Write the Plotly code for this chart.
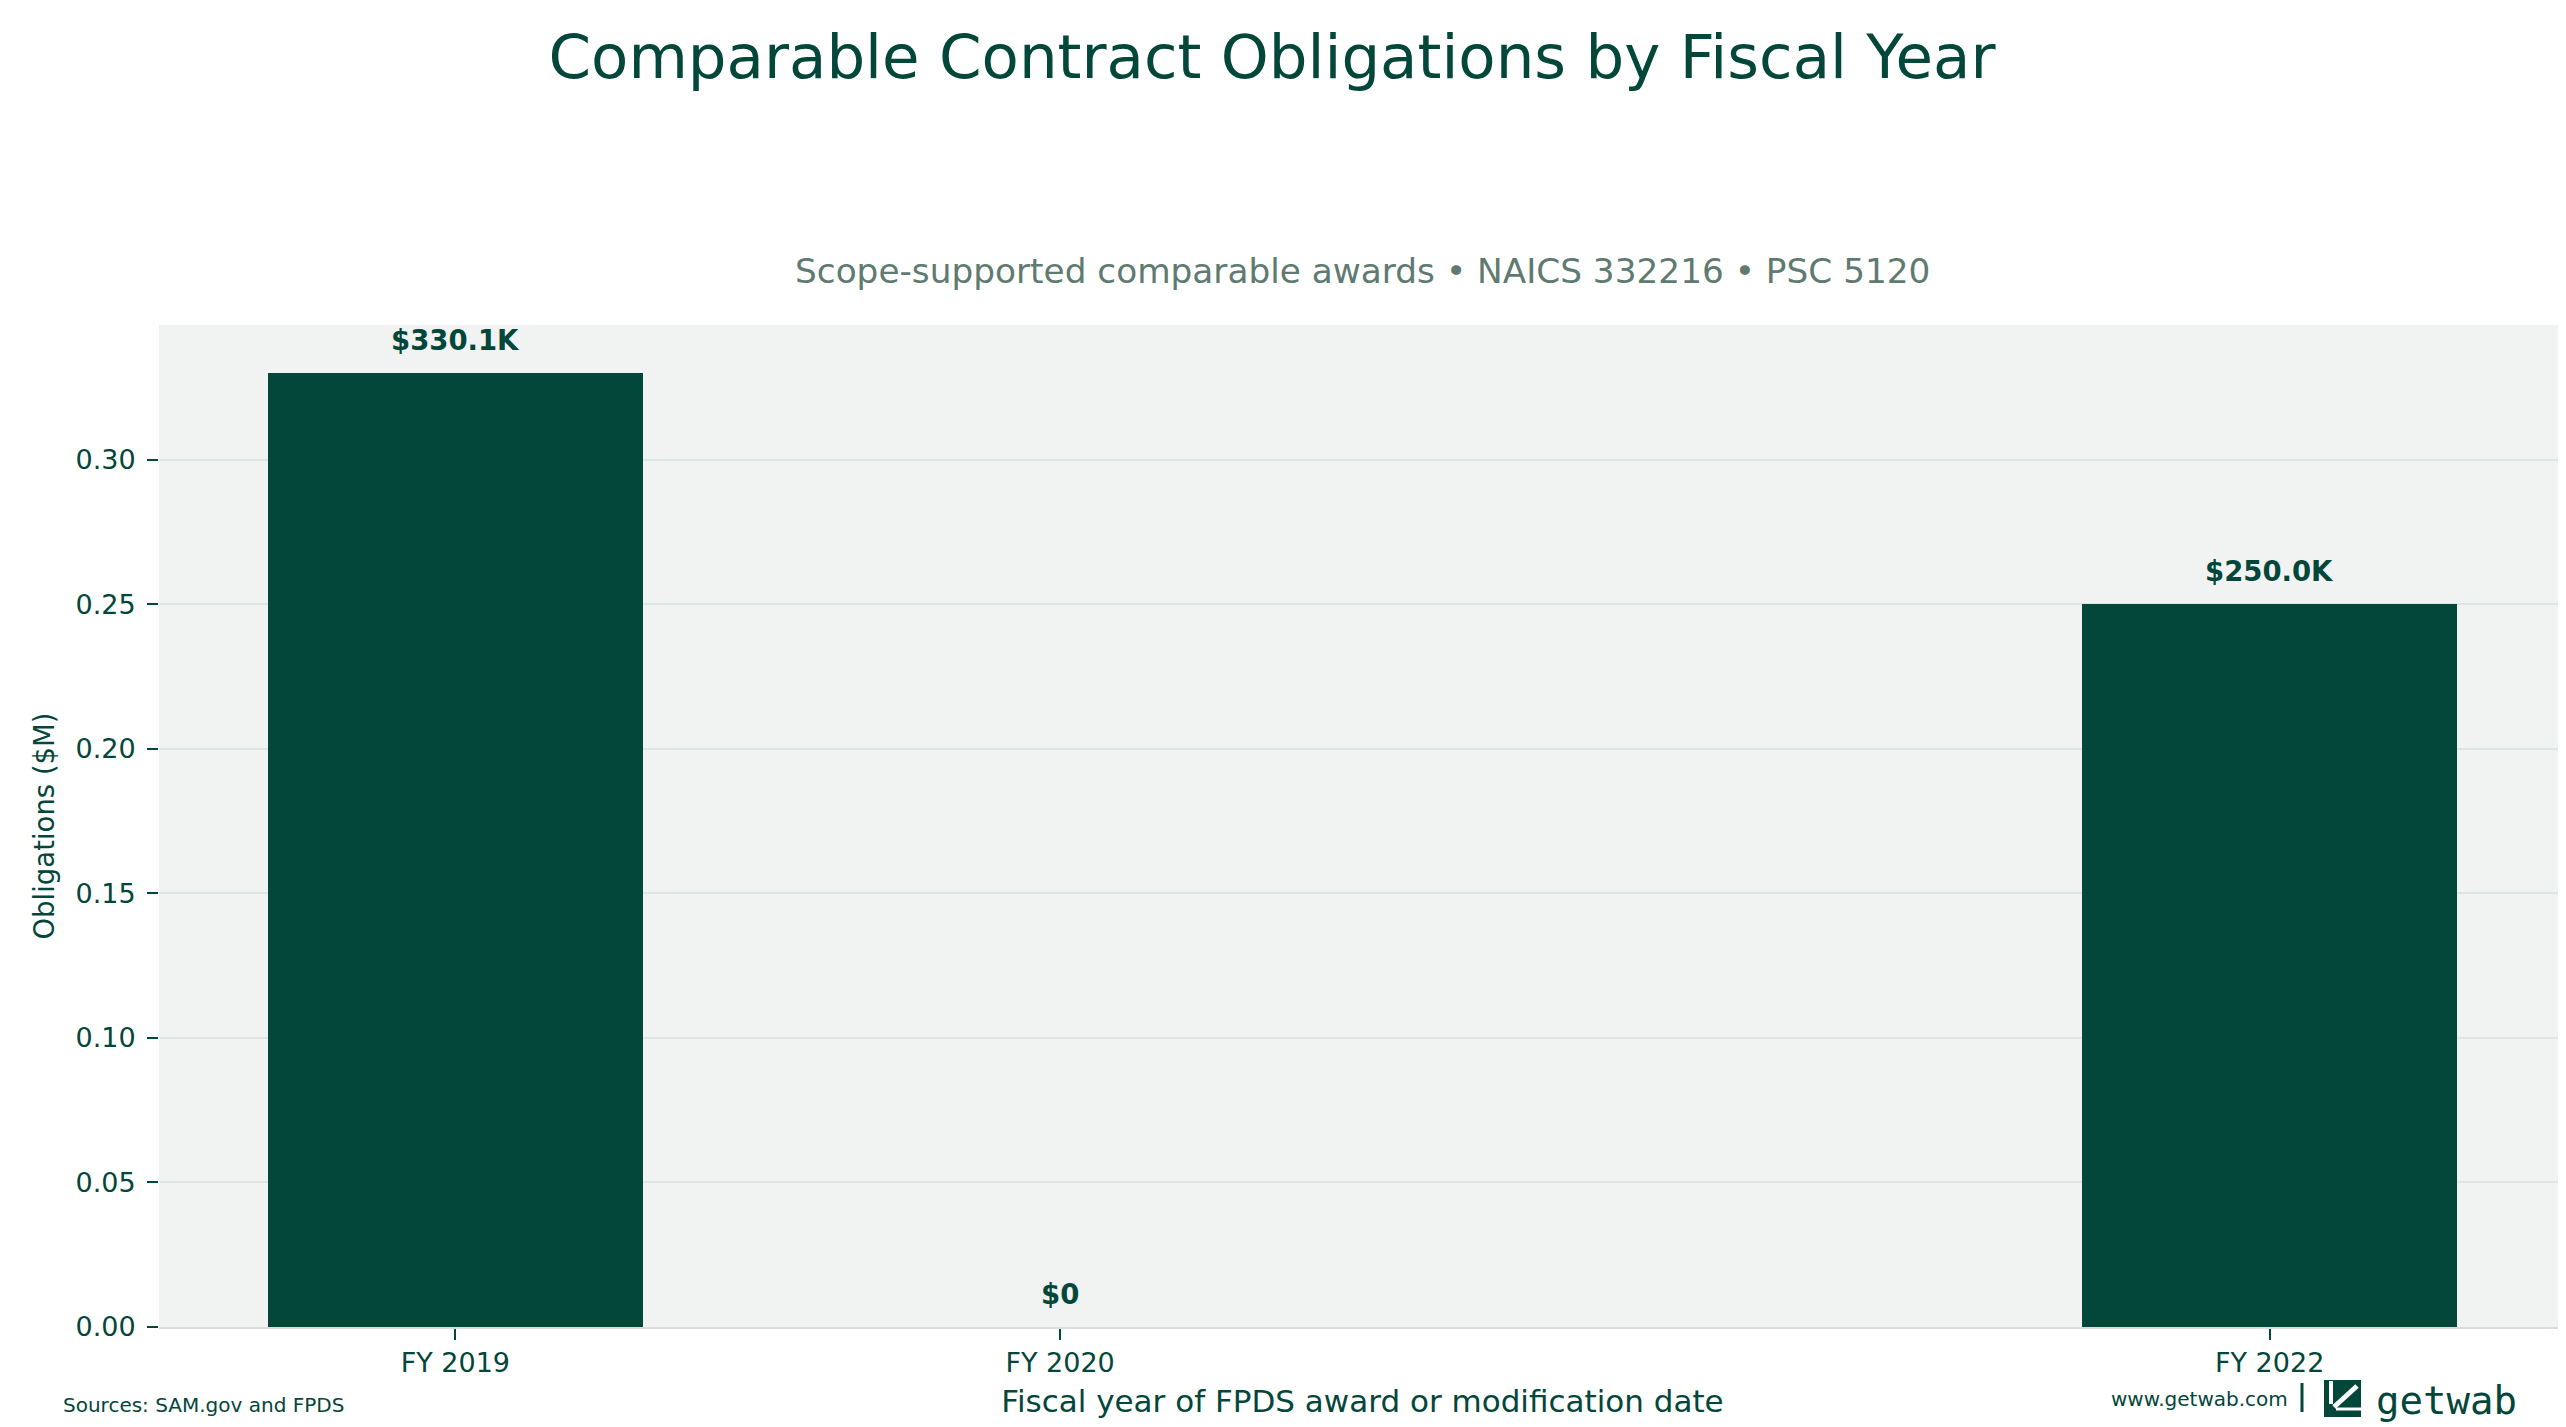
import plotly.graph_objects as go

# Dados (valores em $M)
anos = [2019, 2020, 2022]
rotulos_anos = ["FY 2019", "FY 2020", "FY 2022"]
obrigacoes_mm = [0.3301, 0.0, 0.25]

VERDE = "#03463A"
CINZA_SUB = "#5E7A71"
FUNDO_EIXO = "#F1F3F2"
GRADE = "#DDE6E2"
FONTE = "DejaVu Sans"

W, H = 2566, 1427
ML, MR, MT, MB = 151, 8, 317, 108


def px(x):
    # pixel horizontal -> coordenada paper
    return (x - ML) / (W - ML - MR)


def py(y):
    # pixel vertical -> coordenada paper
    return (H - MB - y) / (H - MT - MB)


def fmt_valor(v):
    if v == 0:
        return "$0"
    return f"${v * 1000:.1f}K"


fig = go.Figure()
fig.add_trace(go.Bar(
    x=anos,
    y=obrigacoes_mm,
    width=0.62,
    marker=dict(color=VERDE, line=dict(width=0)),
    hoverinfo="skip",
))

# rótulos acima das barras
for a, v in zip(anos, obrigacoes_mm):
    fig.add_annotation(
        x=a, y=v, xref="x", yref="y",
        text=f"<b>{fmt_valor(v)}</b>",
        showarrow=False, yanchor="middle", yshift=33,
        font=dict(family=FONTE, size=27.5, color=VERDE),
    )

# subtítulo do eixo
fig.add_annotation(
    x=0.5, y=py(263), xref="paper", yref="paper",
    text="Scope-supported comparable awards • NAICS 332216 • PSC 5120",
    showarrow=False, xanchor="center", yanchor="middle",
    font=dict(family=FONTE, size=34.3, color=CINZA_SUB),
)

# rodapé
fig.add_annotation(
    x=px(53), y=py(1397), xref="paper", yref="paper",
    text="Sources: SAM.gov and FPDS",
    showarrow=False, xanchor="left", yanchor="middle",
    font=dict(family=FONTE, size=20, color=VERDE),
)
fig.add_annotation(
    x=px(2282), y=py(1391), xref="paper", yref="paper",
    text="www.getwab.com",
    showarrow=False, xanchor="right", yanchor="middle",
    font=dict(family=FONTE, size=20, color=VERDE),
)
fig.add_annotation(
    x=px(2366), y=py(1392), xref="paper", yref="paper",
    text="getwab",
    showarrow=False, xanchor="left", yanchor="middle",
    font=dict(family="DejaVu Sans Mono", size=39, color=VERDE),
)

# separador e ícone do logo
fig.add_shape(type="line", xref="paper", yref="paper",
              x0=px(2294), x1=px(2294), y0=py(1375), y1=py(1404),
              line=dict(color=VERDE, width=3))
fig.add_shape(type="rect", xref="paper", yref="paper",
              x0=px(2316), x1=px(2353), y0=py(1409), y1=py(1372),
              fillcolor=VERDE, line=dict(width=0))
fig.add_shape(type="line", xref="paper", yref="paper",
              x0=px(2349), x1=px(2326), y0=py(1378), y1=py(1399),
              line=dict(color="white", width=5))
fig.add_shape(type="line", xref="paper", yref="paper",
              x0=px(2323), x1=px(2323), y0=py(1373), y1=py(1396),
              line=dict(color="white", width=4))
fig.add_shape(type="line", xref="paper", yref="paper",
              x0=px(2328), x1=px(2353), y0=py(1401), y1=py(1401),
              line=dict(color="white", width=3))

fig.update_layout(
    width=W, height=H,
    margin=dict(l=ML, r=MR, t=MT, b=MB),
    paper_bgcolor="white",
    plot_bgcolor=FUNDO_EIXO,
    showlegend=False,
    bargap=0,
    title=dict(
        text="Comparable Contract Obligations by Fiscal Year",
        x=1264 / W, xref="container", xanchor="center",
        y=1 - 49 / H, yref="container", yanchor="middle",
        font=dict(family=FONTE, size=61, color=VERDE),
    ),
    font=dict(family=FONTE, color=VERDE),
)

fig.update_xaxes(
    range=[2018.51, 2022.49],
    tickvals=anos, ticktext=rotulos_anos,
    ticks="outside", ticklen=11, tickwidth=2, tickcolor=VERDE,
    tickfont=dict(family=FONTE, size=27, color=VERDE),
    showgrid=False, zeroline=False,
    showline=True, linecolor="#D8DEDB", linewidth=2,
    title=dict(text="Fiscal year of FPDS award or modification date",
               font=dict(family=FONTE, size=31, color=VERDE), standoff=13),
)
fig.update_yaxes(
    range=[0, 0.3466], dtick=0.05, tickformat=".2f",
    ticks="outside", ticklen=11, tickwidth=2, tickcolor=VERDE,
    ticklabelstandoff=6,
    tickfont=dict(family=FONTE, size=27, color=VERDE),
    showgrid=True, gridcolor=GRADE, gridwidth=2,
    zeroline=False, showline=False,
    title=dict(text="Obligations ($M)",
               font=dict(family=FONTE, size=27.5, color=VERDE), standoff=12),
)

fig.write_html("out.html")
